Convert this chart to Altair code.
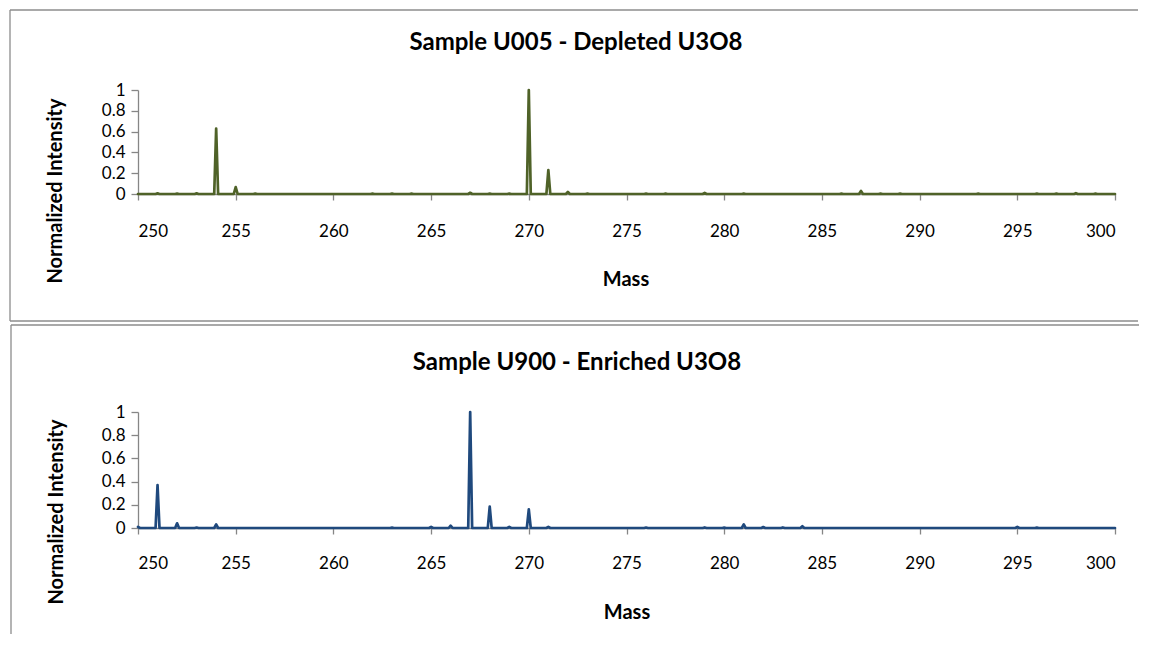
import altair as alt
import pandas as pd

# ---- data (mass in u, normalized intensity) ----
u005_mass = [251, 252, 253, 254, 255, 256, 262, 263, 264, 267, 268, 269, 270, 271, 272, 273,
             276, 277, 279, 281, 286, 287, 288, 289, 293, 296, 297, 298, 299]
u005_int = [0.006, 0.004, 0.006, 0.63, 0.067, 0.004, 0.003, 0.004, 0.003, 0.012, 0.004, 0.004,
            1.0, 0.23, 0.02, 0.004, 0.003, 0.003, 0.01, 0.003, 0.003, 0.03, 0.004, 0.004,
            0.003, 0.003, 0.004, 0.008, 0.003]

u900_mass = [250, 251, 252, 253, 254, 263, 265, 266, 267, 268, 269, 270, 271, 276, 279, 280,
             281, 282, 283, 284, 295, 296]
u900_int = [0.01, 0.37, 0.04, 0.004, 0.03, 0.003, 0.01, 0.02, 1.0, 0.185, 0.01, 0.16, 0.01,
            0.004, 0.005, 0.003, 0.03, 0.008, 0.005, 0.015, 0.01, 0.003]

mass_range = [250, 300]
x_ticks = [250, 255, 260, 265, 270, 275, 280, 285, 290, 295, 300]
y_ticks = [0, 0.2, 0.4, 0.6, 0.8, 1]

titles = ["Sample U005 - Depleted U3O8", "Sample U900 - Enriched U3O8"]
colors = ["#4F6228", "#1F497D"]

PEAK_HALF_WIDTH = 0.1  # baseline points on each side of a peak


def spectrum(masses, ints):
    rows = []
    if masses[0] > mass_range[0]:
        rows.append((mass_range[0], 0.0))
    for m, h in zip(masses, ints):
        if m - PEAK_HALF_WIDTH >= mass_range[0]:
            rows.append((m - PEAK_HALF_WIDTH, 0.0))
        rows.append((m, h))
        if m + PEAK_HALF_WIDTH <= mass_range[1]:
            rows.append((m + PEAK_HALF_WIDTH, 0.0))
    if masses[-1] < mass_range[1]:
        rows.append((mass_range[1], 0.0))
    rows.sort()
    return pd.DataFrame(rows, columns=["Mass", "Intensity"])


FONT = "Lato"
AX = "#868686"
BOX = "#8c8c8c"
dummy = pd.DataFrame({"k": [0]})


def text(label, x, y, size, angle=0):
    return alt.Chart(dummy).mark_text(
        text=label, font=FONT, fontSize=size, fontWeight="bold", color="black",
        align="center", baseline="middle", angle=angle
    ).encode(x=alt.value(x), y=alt.value(y))


def rule(x1, y1, x2, y2):
    return alt.Chart(dummy).mark_rule(color=BOX, strokeWidth=1.3).encode(
        x=alt.value(x1), x2=alt.value(x2), y=alt.value(y1), y2=alt.value(y2)
    )


def panel(df, color, title, h, geo, lines, lab_pad):
    line = alt.Chart(df).mark_line(color=color, strokeWidth=2.7, strokeJoin="round",
                                   strokeCap="round").encode(
        x=alt.X("Mass:Q", scale=alt.Scale(domain=mass_range, nice=False, zero=False),
                axis=alt.Axis(values=x_ticks, format="d", title=None, grid=False,
                              domainColor=AX, tickColor=AX, tickSize=6, labelPadding=lab_pad,
                              labelFont=FONT, labelFontSize=17, labelColor="black",
                              domainWidth=1.3, tickWidth=1.3)),
        y=alt.Y("Intensity:Q", scale=alt.Scale(domain=[0, 1], nice=False),
                axis=alt.Axis(values=y_ticks, format="~g", title=None, grid=False,
                              domainColor=AX, tickColor=AX, tickSize=7, labelPadding=6,
                              labelFont=FONT, labelFontSize=17, labelColor="black",
                              domainWidth=1.3, tickWidth=1.3)),
    )
    tx, ty, yx, yy, mx, my = geo
    layers = [rule(*l) for l in lines] + [
        line,
        text(title, tx, ty, 24),
        text("Normalized Intensity", yx, yy, 20, angle=270),
        text("Mass", mx, my, 20),
    ]
    return alt.layer(*layers).properties(width=977, height=h)


top = panel(spectrum(u005_mass, u005_int), colors[0], titles[0], 104,
            (438, -47, -82, 101, 488, 190),
            [(-128, -80, 1000, -80), (-128, -80, -128, 231), (-128, 231, 1000, 231)], 23)
bottom = panel(spectrum(u900_mass, u900_int), colors[1], titles[1], 116,
               (439, -49, -81, 100, 489, 201),
               [(-127, -87, 1001, -87), (-127, -87, -127, 222)], 21)

chart = alt.vconcat(top, bottom, spacing=0).properties(padding=0).configure(
    font=FONT, view=alt.ViewConfig(stroke="transparent")
)

chart.save("out.html", embed_options={"renderer": "svg", "actions": False})
